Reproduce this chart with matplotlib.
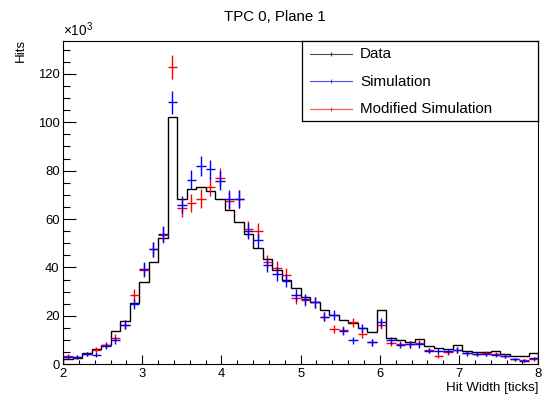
import numpy as np
import matplotlib
matplotlib.use("Agg")
import matplotlib.pyplot as plt

plt.rcParams["font.family"] = ["Liberation Sans", "DejaVu Sans"]
plt.rcParams["mathtext.fontset"] = "custom"
plt.rcParams["mathtext.rm"] = "Liberation Sans"

# hit width histogram, 50 bins of 0.12 ticks from 2 to 8, counts in thousands
edges = np.linspace(2, 8, 51)
data = [2.1, 2.5, 4.5, 6.2, 8.0, 13.8, 17.9, 25.2, 33.9, 42.4,
        52.1, 102.3, 68.2, 72.3, 73.4, 71.8, 68.3, 63.8, 58.8, 53.8,
        48.2, 43.4, 39.0, 34.8, 31.4, 27.9, 25.9, 22.4, 20.4, 18.4,
        17.0, 15.1, 13.5, 22.3, 11.0, 10.0, 9.3, 10.4, 7.7, 6.9,
        6.2, 8.0, 5.5, 4.9, 5.2, 5.6, 4.1, 3.6, 3.4, 4.5]
sim = [2.9, 2.9, 4.3, 4.0, 7.4, 10.0, 16.4, 24.9, 39.4, 47.5,
       53.8, 108.3, 66.0, 76.2, 82.0, 80.5, 75.8, 68.2, 68.2, 54.9,
       51.2, 41.0, 37.3, 34.6, 28.6, 26.8, 25.7, 19.7, 20.4, 13.8,
       9.9, 14.9, 9.1, 17.3, 10.0, 8.0, 8.2, 8.2, 5.7, 5.5,
       5.3, 5.9, 4.6, 4.2, 4.3, 3.8, 3.5, 2.1, 1.5, 2.4]
mod_sim = [3.4, 3.0, 4.3, 6.0, 8.0, 11.0, 16.4, 28.6, 39.0, 47.5,
           53.5, 122.7, 64.5, 66.7, 68.5, 73.4, 77.0, 67.6, 68.2, 56.0,
           55.1, 42.4, 39.7, 36.9, 27.3, 26.5, 25.7, 19.7, 14.7, 14.0,
           17.4, 12.5, 9.1, 16.3, 9.0, 8.3, 8.2, 8.7, 5.8, 3.3,
           5.0, 5.9, 4.7, 4.2, 4.5, 4.3, 3.5, 2.1, 1.7, 2.2]

centers = 0.5 * (edges[:-1] + edges[1:])
half_w = 0.5 * (edges[1] - edges[0])
sim = np.array(sim)
mod_sim = np.array(mod_sim)

fig = plt.figure(figsize=(5.5, 4.01), dpi=100)
ax = fig.add_axes([63 / 550, 1 - 364.3 / 401, 475.3 / 550, 323.6 / 401])

ax.stairs(data, edges, color="black", lw=1.0, zorder=2)
ax.errorbar(centers, mod_sim, xerr=half_w, yerr=0.45 * np.sqrt(mod_sim),
            fmt="none", ecolor="red", elinewidth=1.0, zorder=3)
ax.errorbar(centers, sim, xerr=half_w, yerr=0.45 * np.sqrt(sim),
            fmt="none", ecolor="blue", elinewidth=1.0, zorder=4)

ax.set_xlim(2, 8)
ax.set_ylim(0, 133.7)
ax.set_xticks(np.arange(2, 8.01, 1))
ax.set_xticks(np.arange(2, 8.01, 0.2), minor=True)
ax.set_yticks(np.arange(0, 121, 20))
ax.set_yticks(np.arange(0, 133, 5), minor=True)
ax.tick_params(axis="both", which="both", direction="in", top=False, right=False,
               labelsize=9.4, width=0.8, pad=2.5)
ax.tick_params(axis="x", which="major", length=6.7)
ax.tick_params(axis="x", which="minor", length=3.2)
ax.tick_params(axis="y", which="major", length=9.5)
ax.tick_params(axis="y", which="minor", length=5.3)
for s in ax.spines.values():
    s.set_linewidth(0.8)

ax.text(0, 1.004, r"$\mathregular{\times10^{3}}$", transform=ax.transAxes,
        ha="left", va="bottom", fontsize=9.8)
fig.text(0.5, 1 - 21 / 401, "TPC 0, Plane 1", ha="center", va="baseline", fontsize=10.8)
fig.text(20.7 / 550, 1 - 39 / 401, "Hits", rotation=90, ha="center", va="top", fontsize=9.6)
fig.text(538.3 / 550, 1 - 390.7 / 401, "Hit Width [ticks]", ha="right", va="baseline",
         fontsize=9.6)

# ROOT-style legend box
lax = fig.add_axes([301.7 / 550, 1 - 120.7 / 401, 236.6 / 550, 80 / 401])
lax.set_xlim(0, 1)
lax.set_ylim(0, 1)
lax.set_xticks([])
lax.set_yticks([])
for s in lax.spines.values():
    s.set_linewidth(0.9)
labels = ["Data", "Simulation", "Modified Simulation"]
colors = ["black", "blue", "red"]
rows = [0.834, 0.49, 0.146]
for lab, c, yy in zip(labels, colors, rows):
    lax.plot([0.035, 0.211], [yy, yy], color=c, lw=0.8, alpha=0.7)
    lax.plot([0.123], [yy], marker="|", color=c, ms=2.5, mew=0.8, alpha=0.7)
    lax.text(0.246, yy, lab, ha="left", va="center", fontsize=10.9)

fig.savefig("out.png", dpi=100)
